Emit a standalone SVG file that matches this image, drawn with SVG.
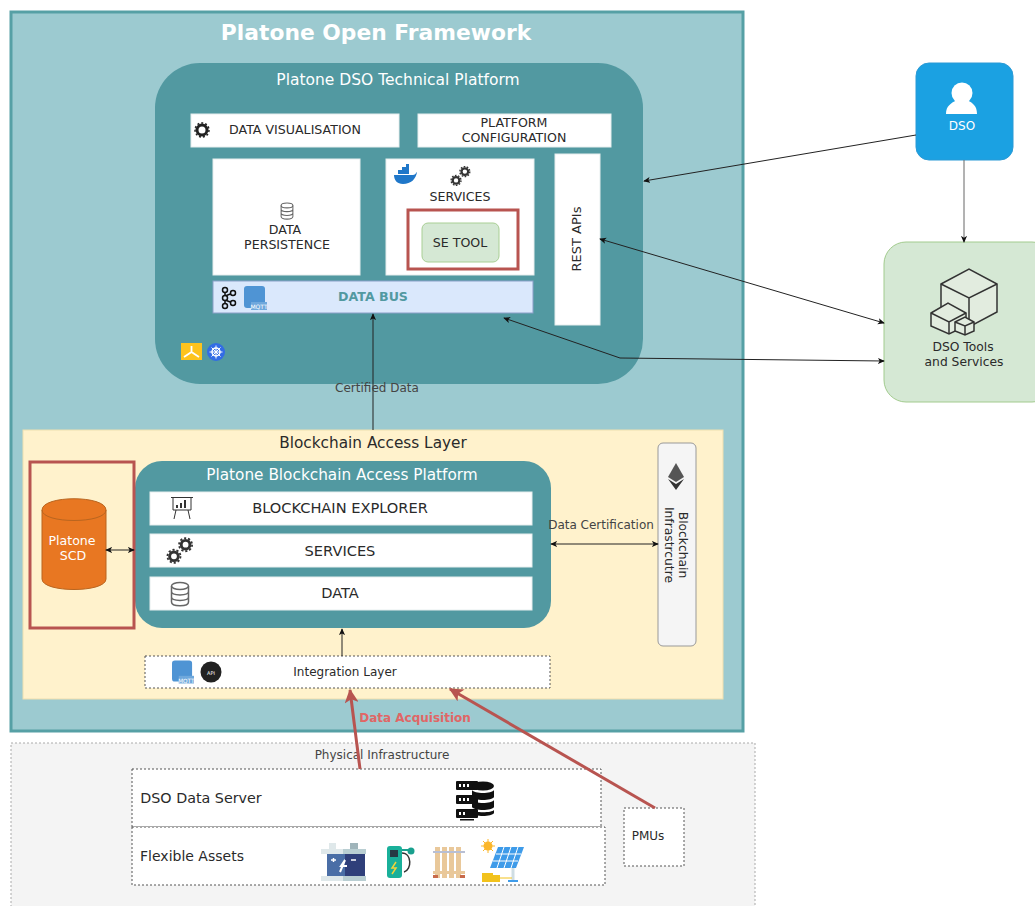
<svg xmlns="http://www.w3.org/2000/svg" width="1035" height="906" viewBox="0 0 1035 906">
<style>
text{font-family:"DejaVu Sans",Verdana,sans-serif;fill:#2a2a2a;text-anchor:middle}
.f12{font-size:12.600px}.f14{font-size:14.600px}.f15{font-size:15.300px}
.w{fill:#fff;stroke:#e6eeee;stroke-width:1}
.t{fill:#5299a1}
.dash{fill:#fff;stroke:#555;stroke-width:1;stroke-dasharray:2 2}
.red{fill:none;stroke:#b85450;stroke-width:3}
.c{fill:none;stroke:#222;stroke-width:1}
</style>
<defs>
<marker id="a" viewBox="0 0 8 8" refX="7" refY="4" markerWidth="7" markerHeight="7" markerUnits="userSpaceOnUse" orient="auto-start-reverse"><path d="M0 0.5L8 4L0 7.5L2 4Z" fill="#111"/></marker>
<marker id="r" viewBox="0 0 12 12" refX="11" refY="6" markerWidth="14" markerHeight="14" markerUnits="userSpaceOnUse" orient="auto"><path d="M0 0L12 6L0 12L3 6Z" fill="#b85450"/></marker>
<symbol id="gears" viewBox="0 0 40 40">
<g fill="none" stroke="#333"><circle cx="27" cy="12" r="6" stroke-width="4"/><circle cx="27" cy="12" r="9" stroke-width="2.500" stroke-dasharray="3 2.600"/><circle cx="11" cy="28" r="6" stroke-width="4"/><circle cx="11" cy="28" r="9" stroke-width="2.500" stroke-dasharray="3 2.600"/></g>
</symbol>
<symbol id="db" viewBox="0 0 20 26">
<g fill="none" stroke="#666" stroke-width="1.500"><ellipse cx="10" cy="5" rx="8.500" ry="3.500"/><path d="M1.500 5V21C1.500 26 18.500 26 18.500 21V5M1.500 10.500C1.500 15 18.500 15 18.500 10.500M1.500 16C1.500 20.500 18.500 20.500 18.500 16"/></g>
</symbol>
<symbol id="mqtt" viewBox="0 0 23 24">
<rect x="0" y="0" width="21" height="22" rx="3" fill="#4f94d4"/><rect x="7" y="16" width="16" height="8" fill="#6fa8dc"/><text x="15" y="23" style="font-size:6px;fill:#fff">MQTT</text>
</symbol>
</defs>

<g id="framework">
<rect x="11" y="12" width="732" height="719" fill="#9ccad0" stroke="#56a0a5" stroke-width="3"/>
<text x="376" y="40" style="font-size:21.800px;font-weight:bold;fill:#fff">Platone Open Framework</text>
</g>

<g id="dso-platform">
<rect x="155" y="63" width="488" height="321" rx="45" class="t"/>
<text x="398" y="85" style="font-size:15.500px;fill:#fff">Platone DSO Technical Platform</text>
<g transform="translate(181,343)"><rect width="21" height="17" fill="#fdc31d"/><path d="M10.500 3V9L3 14M10.500 9L18 14" stroke="#fff" stroke-width="1.800" fill="none"/></g>
<g transform="translate(216,352)"><circle r="9" fill="#326ce5"/><circle r="4" fill="none" stroke="#fff" stroke-width="1.500"/><path d="M0-6.500V6.500M-6.500 0H6.500M-4.500-4.500L4.500 4.500M4.500-4.500L-4.500 4.500" stroke="#fff"/></g>
</g>
<g id="data-visualisation">
<rect x="191" y="114" width="208" height="33" class="w"/>
<text x="295" y="134" class="f12">DATA VISUALISATION</text>
<g fill="none" stroke="#222"><circle cx="202" cy="130" r="5" stroke-width="3"/><circle cx="202" cy="130" r="7" stroke-width="1.500" stroke-dasharray="2 2"/></g>
</g>
<g id="platform-configuration">
<rect x="418" y="114" width="193" height="33" class="w"/>
<text x="514" y="127" class="f12">PLATFORM</text><text x="514" y="142" class="f12">CONFIGURATION</text>
</g>
<g id="data-persistence">
<rect x="213" y="159" width="147" height="116" class="w"/>
<use href="#db" x="279" y="202" width="16" height="18"/>
<text x="285" y="234" class="f12">DATA</text><text x="287" y="249" class="f12">PERSISTENCE</text>
</g>
<g id="services">
<rect x="386" y="159" width="148" height="116" class="w"/>
<path d="M394 175H413C416 175 416 172 417 172C416 179 411 184 403 184C397 184 394 180 394 175Z" fill="#1f77c9"/>
<path d="M398 174V170H402V167H406V164H409V174Z" fill="#1f77c9"/>
<use href="#gears" x="450" y="165" width="22" height="22"/>
<text x="460" y="201" class="f12">SERVICES</text>
</g>
<g id="se-tool">
<rect x="408" y="210" width="110" height="59" fill="none" stroke="#b85450" stroke-width="3"/>
<rect x="422" y="223" width="77" height="39" rx="6" fill="#d5e8d4" stroke="#a9cf94"/>
<text x="460" y="247" class="f12">SE TOOL</text>
</g>
<g id="rest-apis">
<rect x="555" y="154" width="45" height="171" class="w"/>
<text transform="translate(581,239) rotate(-90)" style="font-size:13px">REST APIs</text>
</g>
<g id="data-bus">
<rect x="213" y="281" width="320" height="32" fill="#dae8fc" stroke="#8a9fc8"/>
<text x="373" y="301" class="f12" style="font-weight:bold;fill:#5299a1">DATA BUS</text>
<g fill="none" stroke="#111" stroke-width="1.500"><path d="M225 292V304M225 296L233 293M225 300L233 303"/><circle cx="225" cy="290" r="2.500" fill="#dae8fc"/><circle cx="225" cy="298" r="2.500" fill="#dae8fc"/><circle cx="225" cy="306" r="2.500" fill="#dae8fc"/><circle cx="233" cy="293" r="2.500" fill="#dae8fc"/><circle cx="233" cy="303" r="2.500" fill="#dae8fc"/></g>
<use href="#mqtt" x="244" y="286" width="23" height="24"/>
</g>

<g id="blockchain-layer">
<rect x="23" y="430" width="700" height="269" fill="#fff2cc" stroke="#eedfb0"/>
<text x="373" y="448" class="f15">Blockchain Access Layer</text>
</g>
<g id="blockchain-platform">
<rect x="135" y="461" width="416" height="167" rx="27" class="t"/>
<text x="342" y="480" class="f15" style="fill:#fff">Platone Blockchain Access Platform</text>
<rect x="150" y="492" width="382" height="33" class="w"/>
<text x="340" y="513" class="f14">BLOCKCHAIN EXPLORER</text>
<rect x="150" y="534" width="382" height="33" class="w"/>
<text x="340" y="556" class="f14">SERVICES</text>
<rect x="150" y="577" width="382" height="33" class="w"/>
<text x="340" y="598" class="f14">DATA</text>
<g fill="none" stroke="#333"><path d="M171 497.500H193M173 498V510H191V498M176 510L174 519M188 510L190 519"/><path d="M177 508V505M181 508V503M185 508V500" stroke-width="2"/></g>
<use href="#gears" x="166" y="536" width="29" height="29"/>
<use href="#db" x="170" y="581" width="20" height="26"/>
</g>
<g id="platone-scd">
<rect x="30" y="462" width="104" height="166" fill="none" stroke="#b85450" stroke-width="3"/>
<path d="M42 510C42 495 106 495 106 510V579C106 593 42 593 42 579Z" fill="#e87722" stroke="#b9651f"/>
<path d="M42 510C42 524 106 524 106 510" fill="none" stroke="#b9651f"/>
<text x="72" y="545" class="f12" style="fill:#fff">Platone</text><text x="73" y="560" class="f12" style="fill:#fff">SCD</text>
</g>
<g id="blockchain-infrastructure">
<rect x="658" y="443" width="38" height="203" rx="5" fill="#f5f5f5" stroke="#999"/>
<text transform="translate(677,545) rotate(90)" style="font-size:12.300px"><tspan x="0" y="-2">Blockchain</tspan><tspan x="0" y="12">Infrastrcutre</tspan></text>
<path d="M676 463L684 477L676 482L668 477Z" fill="#555"/><path d="M668 479L676 484L684 479L676 490Z" fill="#333"/>
</g>
<g id="integration-layer">
<rect x="145" y="656" width="405" height="32" class="dash"/>
<text x="345" y="676" style="font-size:12px">Integration Layer</text>
<use href="#mqtt" x="172" y="660" width="22" height="24"/>
<circle cx="211" cy="672" r="10.500" fill="#222"/><text x="211" y="675" style="font-size:5px;fill:#fff">API</text>
</g>

<g id="physical-infrastructure">
<rect x="11" y="743" width="744" height="170" fill="#f4f4f4" stroke="#aaa" stroke-dasharray="2 2"/>
<text x="382" y="759" style="font-size:12px;fill:#444">Physical Infrastructure</text>
</g>
<g id="dso-data-server">
<rect x="132" y="769" width="469" height="58" class="dash"/>
<text x="201" y="803" style="font-size:14.300px">DSO Data Server</text>
<g fill="#111"><rect x="456" y="781" width="22" height="9" rx="1"/><rect x="456" y="795" width="22" height="9" rx="1"/><rect x="456" y="809" width="22" height="9" rx="1"/><ellipse cx="483" cy="786" rx="11" ry="4.500"/><path d="M472 790C474 794 492 794 494 790V797C492 801 474 801 472 797ZM472 800C474 804 492 804 494 800V807C492 811 474 811 472 807ZM472 810C474 813 492 813 494 810V813C492 817 474 817 472 813Z"/><rect x="460" y="819" width="14" height="1.500"/></g>
<g fill="#fff"><rect x="459" y="784" width="2" height="3"/><rect x="463" y="784" width="2" height="3"/><rect x="467" y="784" width="2" height="3"/><rect x="459" y="798" width="2" height="3"/><rect x="463" y="798" width="2" height="3"/><rect x="467" y="798" width="2" height="3"/><rect x="459" y="812" width="2" height="3"/><rect x="463" y="812" width="2" height="3"/></g>
</g>
<g id="flexible-assets">
<rect x="132" y="827" width="473" height="58" class="dash"/>
<text x="192" y="861" style="font-size:14px">Flexible Assets</text>
<g>
<rect x="327" y="849" width="38" height="31" fill="#4a6ea6"/><rect x="345" y="849" width="20" height="31" fill="#2f3f7a"/>
<rect x="321" y="849" width="22" height="5" fill="#dfe8ea"/><rect x="343" y="849" width="23" height="5" fill="#b9ced2"/>
<rect x="321" y="876" width="22" height="5" fill="#dfe8ea"/><rect x="343" y="876" width="23" height="5" fill="#b9ced2"/>
<rect x="329" y="843" width="7" height="6" fill="#dfe8ea"/><rect x="350" y="843" width="8" height="6" fill="#9fb4ba"/>
<path d="M347 866L341 866L345 860L340 872" fill="none" stroke="#fff" stroke-width="2"/><path d="M331 860H336M333.500 858V862M351 860H356" stroke="#fff" stroke-width="1.500"/>
</g>
<g>
<rect x="387" y="846" width="15" height="32" rx="3" fill="#19b09a"/><rect x="390" y="850" width="8" height="7" fill="#263a44"/>
<path d="M396 862L392 868H396L392 874" fill="none" stroke="#f1d33b" stroke-width="1.500"/>
<path d="M402 853C412 853 412 870 404 872" fill="none" stroke="#333" stroke-width="1.500"/><path d="M402 850H408" stroke="#19a08e" stroke-width="2"/><circle cx="411" cy="851" r="3.500" fill="#19a08e"/>
</g>
<g>
<g fill="#e9c89a"><rect x="435" y="847" width="5" height="31"/><rect x="442" y="847" width="5" height="31"/><rect x="449" y="847" width="5" height="31"/><rect x="456" y="847" width="5" height="31"/></g>
<rect x="433" y="871" width="32" height="3" fill="#e9c89a"/><path d="M433 852H465" stroke="#b8bfd4" stroke-width="2"/>
<rect x="433" y="875" width="5" height="3" fill="#c86a4a"/><rect x="460" y="875" width="5" height="3" fill="#c86a4a"/>
</g>
<g>
<circle cx="488" cy="846" r="4.500" fill="#fbb62a"/><path d="M488 839V853M481 846H495M483 841L493 851M493 841L483 851" stroke="#fbb62a"/>
<path d="M498 847H524L516 868H490Z" fill="#3e9be9"/><path d="M504 847L497 868M511 847L504 868M518 847L511 868M496 854H521M493 861H518" stroke="#fff"/>
<path d="M513 868V880" stroke="#cfdde3" stroke-width="3"/>
<rect x="482" y="873" width="11" height="9" fill="#f2c21c"/><rect x="493" y="875" width="7" height="7" fill="#f2c21c"/><path d="M500 878H512" stroke="#f2c21c"/><rect x="508" y="880" width="10" height="2" fill="#3e9be9"/>
</g>
</g>
<g id="pmus">
<rect x="624" y="808" width="60" height="58" class="dash"/>
<text x="648" y="840" style="font-size:12px">PMUs</text>
</g>

<g id="dso">
<rect x="916" y="63" width="97" height="97" rx="13" fill="#1ba1e2" stroke="#2a9ad6"/>
<circle cx="962" cy="93" r="10.500" fill="#fff"/>
<path d="M946 114C946 106 951 103 957 100C960 103 964 103 967 100C973 103 977 106 977 114Z" fill="#fff"/>
<text x="962" y="130" style="font-size:12px;fill:#fff">DSO</text>
</g>
<g id="dso-tools">
<rect x="884" y="242" width="170" height="160" rx="22" fill="#d5e8d4" stroke="#a2cb8e"/>
<g fill="none" stroke="#333" stroke-width="1.500">
<path d="M941 284L969 269L997 284V312L969 327L941 312Z" fill="#e2ecdf"/><path d="M941 284L969 298L997 284M969 298V327"/>
<path d="M931 313L948 303L966 313V326L949 334L931 326Z" fill="#e2ecdf"/><path d="M931 313L949 322L966 313M949 322V334"/>
<path d="M955 322L965 317L974 322V331L965 335L955 331Z" fill="#e2ecdf"/><path d="M955 322L965 326L974 322M965 326V335"/>
</g>
<text x="963" y="351" style="font-size:12.300px">DSO Tools</text><text x="964" y="366" style="font-size:12.300px">and Services</text>
</g>

<g id="connectors">
<path class="c" d="M916 135L644 181" marker-end="url(#a)"/>
<path class="c" style="stroke:#666" d="M964 160V242" marker-end="url(#a)"/>
<path class="c" d="M884 323L600 239" marker-start="url(#a)" marker-end="url(#a)"/>
<path class="c" d="M884 361L620 358L504 318" marker-start="url(#a)" marker-end="url(#a)"/>
<path class="c" d="M373 430V314" marker-end="url(#a)"/>
<path class="c" d="M106 550H134" marker-start="url(#a)" marker-end="url(#a)"/>
<path class="c" d="M551 544H658" marker-start="url(#a)" marker-end="url(#a)"/>
<path class="c" d="M342 656V629" marker-end="url(#a)"/>
<path class="red" d="M360 769L350 690" marker-end="url(#r)"/>
<path class="red" d="M655 808L450 689" marker-end="url(#r)"/>
<text x="377" y="392" style="font-size:12px;fill:#444">Certified Data</text>
<text x="601" y="529" style="font-size:12px;fill:#444">Data Certification</text>
<text x="415" y="722" style="font-size:12px;font-weight:bold;fill:#e06666">Data Acquisition</text>
</g>
</svg>
